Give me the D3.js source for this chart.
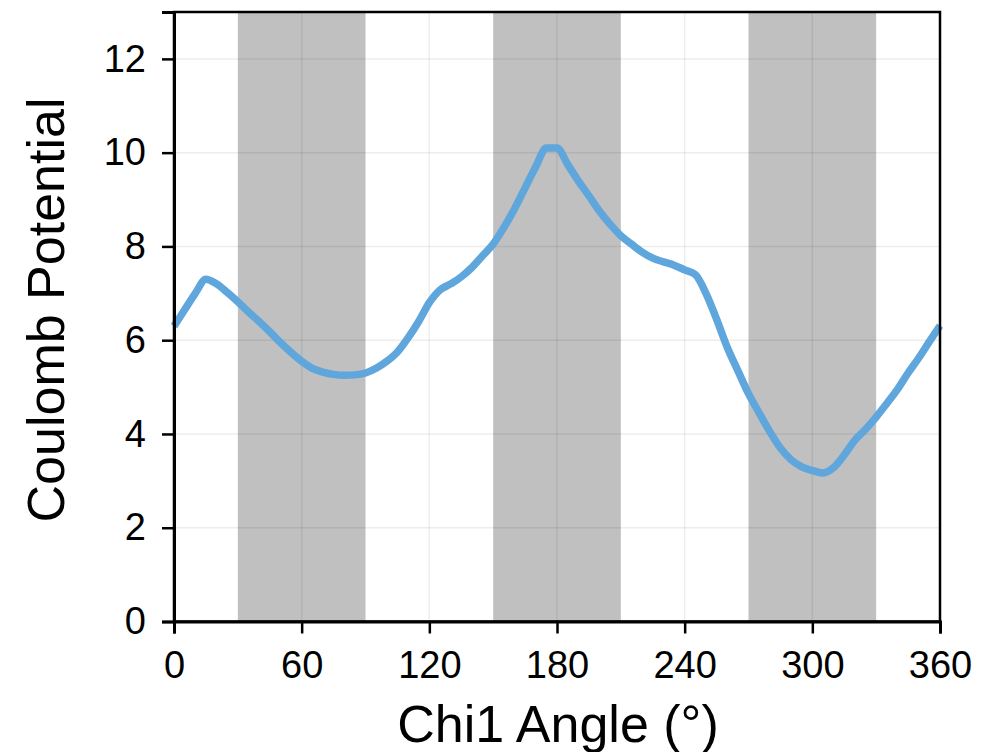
<!DOCTYPE html>
<html>
<head>
<meta charset="utf-8">
<script src="https://cdn.jsdelivr.net/npm/d3@7"></script>
<style>
  html, body { margin: 0; padding: 0; background: #fff; }
  svg { display: block; }
  text { font-family: "Liberation Sans", Arial, sans-serif; fill: #000; }
</style>
</head>
<body>
<svg id="chart" width="987" height="752"></svg>
<script>
// Chi1 dihedral scan: Coulomb potential vs. side-chain angle
const angles = [0, 5, 10, 15, 20, 25, 30, 35, 40, 45, 50, 55, 60, 65, 70, 75, 80, 85, 90,
  95, 100, 105, 110, 115, 120, 125, 130, 135, 140, 145, 150, 155, 160, 165, 170, 175, 180,
  185, 190, 195, 200, 205, 210, 215, 220, 225, 230, 235, 240, 245, 250, 255, 260, 265, 270,
  275, 280, 285, 290, 295, 300, 305, 310, 315, 320, 325, 330, 335, 340, 345, 350, 355, 360];
const potential = [6.30, 6.65, 7.00, 7.30, 7.20, 7.02, 6.82, 6.60, 6.40, 6.18, 5.95, 5.74, 5.55,
  5.40, 5.32, 5.27, 5.25, 5.26, 5.30, 5.40, 5.55, 5.75, 6.05, 6.40, 6.80, 7.07, 7.20, 7.35,
  7.55, 7.80, 8.05, 8.40, 8.80, 9.25, 9.70, 10.10, 10.10, 9.75, 9.40, 9.08, 8.75, 8.47, 8.23,
  8.05, 7.88, 7.75, 7.67, 7.60, 7.50, 7.40, 7.00, 6.45, 5.85, 5.35, 4.86, 4.45, 4.05, 3.70,
  3.45, 3.30, 3.22, 3.17, 3.28, 3.55, 3.87, 4.10, 4.36, 4.65, 4.95, 5.30, 5.62, 5.97, 6.31];

// Shaded angle windows
const bands = [[30, 90], [150, 210], [270, 330]];

const xTicks = [0, 60, 120, 180, 240, 300, 360];
const yTicks = [0, 2, 4, 6, 8, 10, 12];
const xTitle = "Chi1 Angle (°)";
const yTitle = "Coulomb Potential";

const svg = d3.select("#chart");
const m = { left: 174, right: 940, top: 12, bottom: 621.5 };

const x = d3.scaleLinear().domain([0, 360]).range([m.left, m.right]);
const y = d3.scaleLinear().domain([0, 13]).range([m.bottom, m.top]);

// shaded bands
svg.append("g").selectAll("rect").data(bands).join("rect")
  .attr("x", d => x(d[0]))
  .attr("width", d => x(d[1]) - x(d[0]))
  .attr("y", m.top)
  .attr("height", m.bottom - m.top)
  .attr("fill", "#c0c0c0");

// gridlines
const grid = svg.append("g").attr("stroke", "rgba(0,0,0,0.07)").attr("stroke-width", 1.5);
grid.selectAll("line.v").data(xTicks.slice(1, -1)).join("line").attr("class", "v")
  .attr("x1", d => x(d)).attr("x2", d => x(d))
  .attr("y1", m.top).attr("y2", m.bottom);
grid.selectAll("line.h").data(yTicks.slice(1)).join("line").attr("class", "h")
  .attr("x1", m.left).attr("x2", m.right)
  .attr("y1", d => y(d)).attr("y2", d => y(d));

// data line
const line = d3.line().x((d, i) => x(angles[i])).y(d => y(d)).curve(d3.curveMonotoneX);
svg.append("path")
  .datum(potential)
  .attr("d", line)
  .attr("fill", "none")
  .attr("stroke", "#5fa6dc")
  .attr("stroke-width", 7.5)
  .attr("stroke-linejoin", "round")
  .attr("stroke-linecap", "butt");

// frame
svg.append("rect")
  .attr("x", m.left).attr("y", m.top)
  .attr("width", m.right - m.left).attr("height", m.bottom - m.top)
  .attr("fill", "none").attr("stroke", "#000").attr("stroke-width", 2.5);

// axes
const xAxis = d3.axisBottom(x).tickValues(xTicks).tickSize(12).tickPadding(18).tickFormat(d3.format("d"));
const yAxis = d3.axisLeft(y).tickValues(yTicks).tickSize(12).tickPadding(16).tickFormat(d3.format("d"));

const gx = svg.append("g").attr("transform", `translate(0,${m.bottom})`).call(xAxis);
const gy = svg.append("g").attr("transform", `translate(${m.left},0)`).call(yAxis);
[gx, gy].forEach(g => {
  g.select(".domain").attr("stroke", "#000").attr("stroke-width", 3);
  g.selectAll(".tick line").attr("stroke", "#000").attr("stroke-width", 2.5);
  g.selectAll(".tick text").attr("font-family", "Liberation Sans, Arial, sans-serif")
    .attr("font-size", 38).attr("fill", "#000");
});

// axis titles
svg.append("text")
  .attr("x", 558).attr("y", 742)
  .attr("text-anchor", "middle")
  .attr("font-size", 52)
  .text(xTitle);

svg.append("text")
  .attr("transform", "translate(64,310) rotate(-90)")
  .attr("text-anchor", "middle")
  .attr("font-size", 52)
  .text(yTitle);
</script>
</body>
</html>
